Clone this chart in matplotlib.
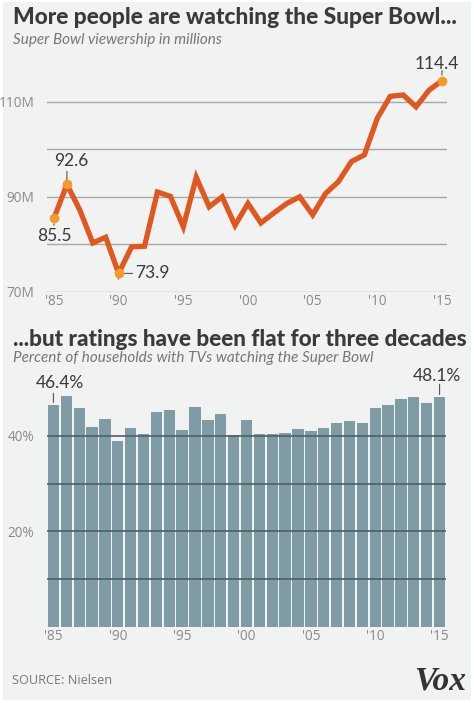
import matplotlib
matplotlib.use("Agg")
import matplotlib.pyplot as plt
from matplotlib.patches import Rectangle

years = list(range(1985, 2016))
viewers = [85.5, 92.6, 87.2, 80.3, 81.5, 73.9, 79.5, 79.6, 91.0, 90.1, 83.7, 94.1,
           87.9, 90.0, 84.0, 88.6, 84.5, 86.6, 88.6, 90.0, 86.2, 90.7, 93.2, 97.4,
           98.8, 106.5, 111.1, 111.4, 108.9, 112.4, 114.4]
ratings = [46.4, 48.3, 45.8, 41.9, 43.5, 39.0, 41.7, 40.3, 45.1, 45.5, 41.3, 46.1,
           43.3, 44.5, 40.2, 43.3, 40.4, 40.4, 40.7, 41.4, 41.1, 41.6, 42.6, 43.1,
           42.6, 45.9, 46.5, 47.8, 48.1, 47.0, 48.1]
xtick_years = [1985, 1990, 1995, 2000, 2005, 2010, 2015]
xtick_labels = ["'85", "'90", "'95", "'00", "'05", "'10", "'15"]
top_grid = [70, 80, 90, 100, 110]
top_ticks = [70, 90, 110]
top_tick_labels = ["70M", "90M", "110M"]
bot_grid = [10, 20, 30, 40]
bot_ticks = [20, 40]
bot_tick_labels = ["20%", "40%"]

W, H = 474, 703
fig = plt.figure(figsize=(W / 100, H / 100), dpi=100)
fig.patch.set_facecolor("white")
BG = "#f1f2f2"
fig.patches.append(Rectangle((3 / W, 3 / H), 468 / W, 698 / H, transform=fig.transFigure,
                             facecolor=BG, edgecolor="none", zorder=-10))

FONT = "Lato"
TICKFONT = "Open Sans"
DARK = "#3a3a3a"
GRAYT = "#8a8a8a"

def fx(px):
    return px / W

def fy(py):
    return 1 - py / H

# Titles
fig.text(fx(13), fy(18), "More people are watching the Super Bowl...", fontsize=16.4,
         fontweight="black", family=FONT, color=DARK, va="center", ha="left")
fig.text(fx(13), fy(40), "Super Bowl viewership in millions", fontsize=11,
         style="italic", family=FONT, color="#777777", va="center", ha="left")
fig.text(fx(13), fy(340), "...but ratings have been flat for three decades", fontsize=16.2,
         fontweight="black", family=FONT, color=DARK, va="center", ha="left")
fig.text(fx(13), fy(358), "Percent of households with TVs watching the Super Bowl", fontsize=11,
         style="italic", family=FONT, color="#777777", va="center", ha="left")

# ---- Top chart ----
ax1 = fig.add_axes([fx(47), fy(292), fx(447) - fx(47), fy(72) - fy(292)])
ax1.set_facecolor("none")
ax1.set_xlim(1984.46, 2015.39)
ax1.set_ylim(70, 70 + 220 / 4.76)
for g in top_grid:
    ax1.axhline(g, color="#a9a9a9", lw=1.0, zorder=1)
ax1.plot(years, viewers, color="#e0581f", lw=3.8, solid_joinstyle="miter", zorder=3)
for i in [0, 1, 5, 30]:
    ax1.plot(years[i], viewers[i], "o", color="#f39a2a", ms=7, zorder=4, mec="none")
for s in ax1.spines.values():
    s.set_visible(False)
ax1.set_yticks(top_ticks)
ax1.set_yticklabels(top_tick_labels)
ax1.set_xticks(xtick_years)
ax1.set_xticklabels(xtick_labels)
ax1.tick_params(length=0, labelsize=9.8, labelcolor=GRAYT, pad=1.5)
ax1.tick_params(axis="y", pad=9)
for lab in ax1.get_xticklabels() + ax1.get_yticklabels():
    lab.set_family(TICKFONT)

ann_kw = dict(fontsize=12.5, family=FONT, color=DARK)
ax1.annotate("85.5", xy=(years[0], viewers[0]), xytext=(0, -18), textcoords="offset pixels",
             ha="center", va="center", **ann_kw)
ax1.annotate("", xy=(years[0], viewers[0]), xytext=(0, -7), textcoords="offset pixels",
             arrowprops=dict(arrowstyle="-", color="#555555", lw=0.8, shrinkA=0, shrinkB=4))
ax1.annotate("92.6", xy=(years[1], viewers[1]), xytext=(4, 23), textcoords="offset pixels",
             ha="center", va="center", **ann_kw)
ax1.annotate("", xy=(years[1], viewers[1]), xytext=(0, 13), textcoords="offset pixels",
             arrowprops=dict(arrowstyle="-", color="#555555", lw=0.8, shrinkA=0, shrinkB=4))
ax1.annotate("73.9", xy=(years[5], viewers[5]), xytext=(16, 0), textcoords="offset pixels",
             ha="left", va="center", **ann_kw)
ax1.annotate("", xy=(years[5], viewers[5]), xytext=(14, 0), textcoords="offset pixels",
             arrowprops=dict(arrowstyle="-", color="#555555", lw=0.8, shrinkA=0, shrinkB=4))
ax1.annotate("114.4", xy=(years[30], viewers[30]), xytext=(-5, 17), textcoords="offset pixels",
             ha="center", va="center", **ann_kw)
ax1.annotate("", xy=(years[30], viewers[30]), xytext=(0, 10), textcoords="offset pixels",
             arrowprops=dict(arrowstyle="-", color="#555555", lw=0.8, shrinkA=0, shrinkB=4))

# ---- Bottom chart ----
ax2 = fig.add_axes([fx(47), fy(626.7), fx(446) - fx(47), fy(380) - fy(626.7)])
ax2.set_facecolor("none")
ax2.set_xlim(1984.5, 2015.5)
ax2.set_ylim(0, (626.7 - 380) / 4.77)
ax2.bar(years, ratings, width=0.88, color="#7f9ba3", zorder=2)
for g in bot_grid:
    ax2.axhline(g, color="#4d5f65", lw=1.2, zorder=3)
for s in ax2.spines.values():
    s.set_visible(False)
ax2.set_yticks(bot_ticks)
ax2.set_yticklabels(bot_tick_labels)
ax2.set_xticks(xtick_years)
ax2.set_xticklabels(xtick_labels)
ax2.tick_params(length=0, labelsize=9.8, labelcolor=GRAYT, pad=1.5)
ax2.tick_params(axis="y", pad=9)
for lab in ax2.get_xticklabels() + ax2.get_yticklabels():
    lab.set_family(TICKFONT)

ax2.annotate("46.4%", xy=(years[0], ratings[0]), xytext=(6, 22), textcoords="offset pixels",
             ha="center", va="center", **ann_kw)
ax2.annotate("", xy=(years[0], ratings[0]), xytext=(0, 12), textcoords="offset pixels",
             arrowprops=dict(arrowstyle="-", color="#555555", lw=0.8, shrinkA=0, shrinkB=2))
ax2.annotate("48.1%", xy=(years[30], ratings[30]), xytext=(-3, 21), textcoords="offset pixels",
             ha="center", va="center", **ann_kw)
ax2.annotate("", xy=(years[30], ratings[30]), xytext=(0, 13), textcoords="offset pixels",
             arrowprops=dict(arrowstyle="-", color="#555555", lw=0.8, shrinkA=0, shrinkB=2))

# Footer
fig.text(fx(12), fy(681), "SOURCE: Nielsen", fontsize=9.2, family=TICKFONT, color="#777777",
         ha="left", va="center")
fig.text(fx(466), fy(681), "Vox", fontsize=24, family="Liberation Serif", fontweight="bold",
         style="italic", color="#333333", ha="right", va="center")

fig.savefig("out.png", dpi=100, facecolor=fig.get_facecolor())
